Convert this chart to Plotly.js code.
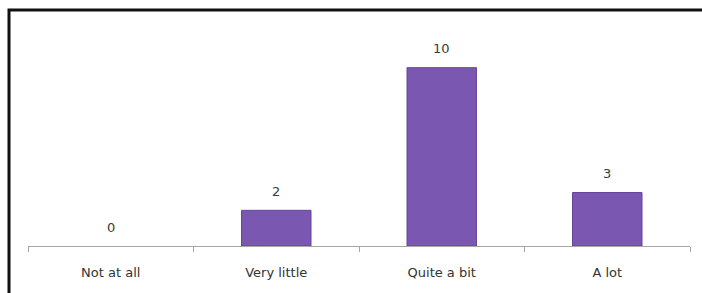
<!DOCTYPE html>
<html>
<head>
<meta charset="utf-8">
<script src="https://cdn.plot.ly/plotly-3.0.1.min.js"></script>
<style>html,body{margin:0;padding:0;background:#fff;}#chart{width:702px;height:293px;}</style>
</head>
<body>
<div id="chart"></div>
<script>
const categories = ["Not at all", "Very little", "Quite a bit", "A lot"];
const values = [0, 2, 10, 3];

const trace = {
  type: "bar",
  x: categories,
  y: values,
  marker: {
    color: "#7a57b0",
    line: { color: "#65479a", width: values.map(v => v > 0 ? 1 : 0) }
  },
  hoverinfo: "none"
};

const annotations = categories.map((c, i) => ({
  x: c, y: values[i], xref: "x", yref: "y",
  text: String(values[i]), showarrow: false,
  yanchor: "middle", yshift: 19,
  font: { family: "DejaVu Sans, sans-serif", size: 13, color: "#3a3a3a" }
}));

const layout = {
  width: 702, height: 293,
  margin: { l: 28, r: 12, t: 32, b: 47 },
  paper_bgcolor: "#ffffff", plot_bgcolor: "#ffffff",
  bargap: 0.58,
  showlegend: false,
  xaxis: {
    type: "category",
    showline: true, linecolor: "#a6a6a6", linewidth: 1,
    ticks: "outside", tickson: "boundaries", ticklen: 5, tickcolor: "#a6a6a6",
    ticklabelstandoff: 14,
    tickfont: { family: "DejaVu Sans, sans-serif", size: 13, color: "#333333" },
    showgrid: false, zeroline: false, fixedrange: true
  },
  yaxis: {
    range: [0, 12], visible: false, showgrid: false, zeroline: false, fixedrange: true
  },
  annotations: annotations,
  shapes: [{
    type: "rect", xref: "paper", yref: "paper",
    x0: (9 - 28) / 662, x1: (708 - 28) / 662,
    y0: (246 - 300) / 214, y1: (246 - 10) / 214,
    line: { color: "#111111", width: 3 }, fillcolor: "rgba(0,0,0,0)", layer: "above"
  }]
};

Plotly.newPlot("chart", [trace], layout, { displayModeBar: false, staticPlot: true });
</script>
</body>
</html>
